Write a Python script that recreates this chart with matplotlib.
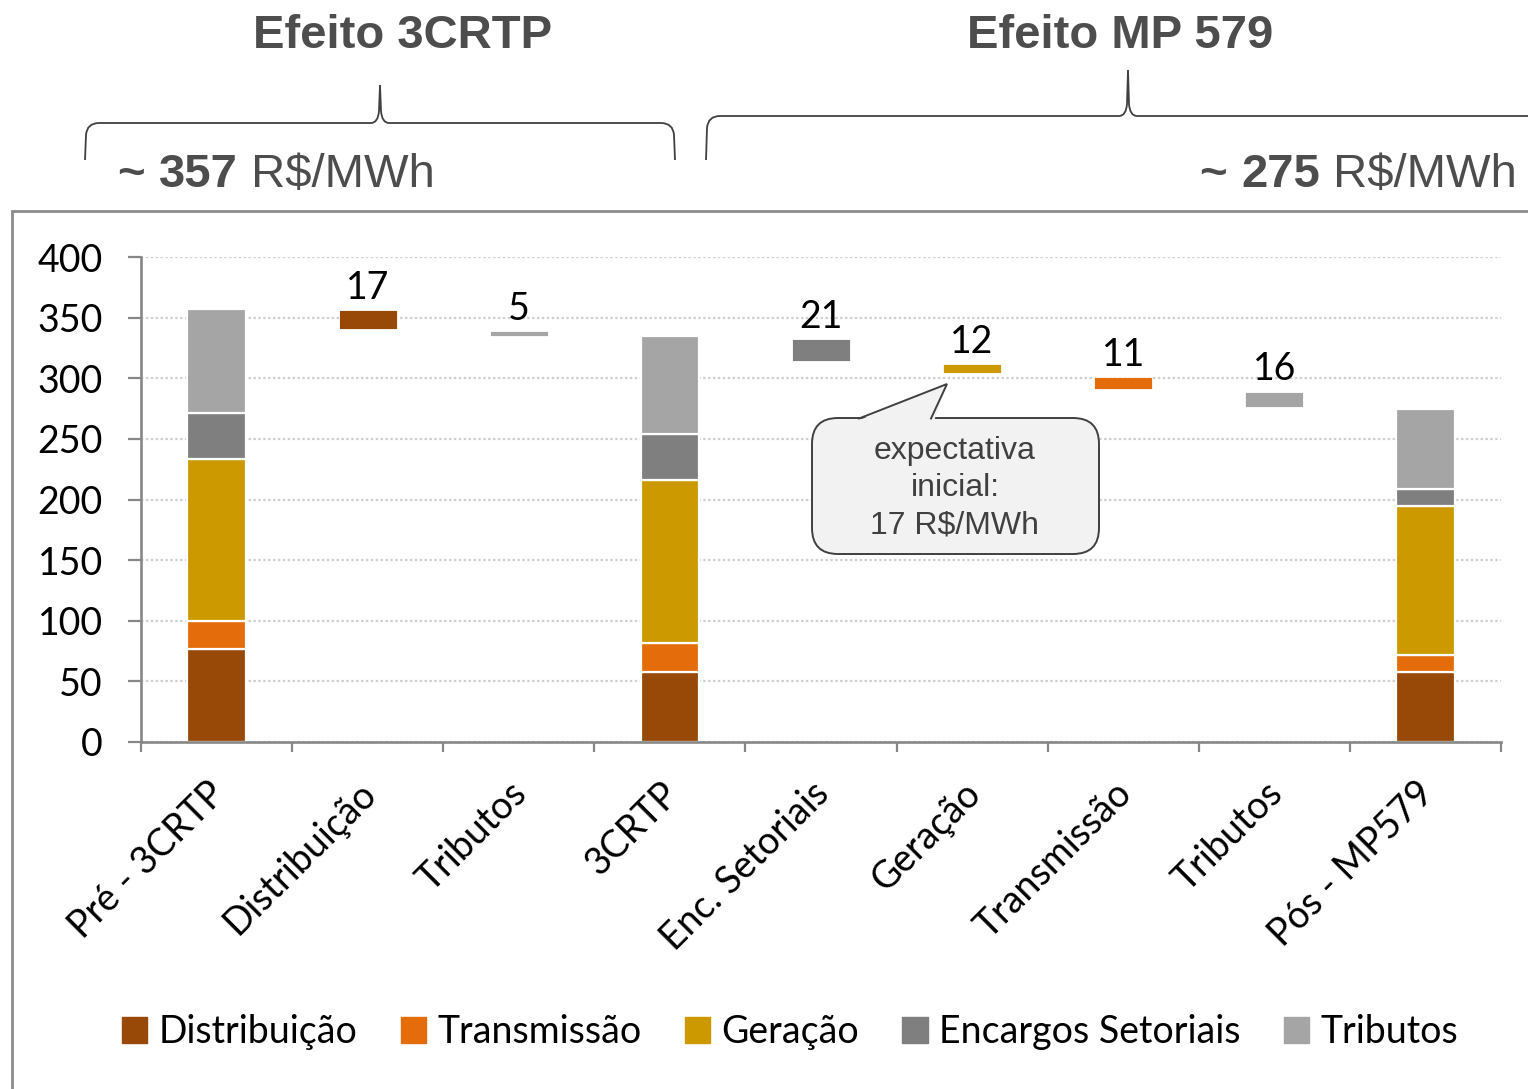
import matplotlib
matplotlib.use("Agg")
import matplotlib.pyplot as plt
from matplotlib.patches import FancyBboxPatch, Polygon, PathPatch, Patch
from matplotlib.path import Path
import matplotlib.transforms as mtransforms

# ---------------- data ----------------
categories = ["Pré - 3CRTP", "Distribuição", "Tributos", "3CRTP", "Enc. Setoriais",
              "Geração", "Transmissão", "Tributos", "Pós - MP579"]
series_names = ["Distribuição", "Transmissão", "Geração", "Encargos Setoriais", "Tributos"]
series_colors = ["#984807", "#E46C0A", "#CC9A00", "#7F7F7F", "#A5A5A5"]

# stacked totals (Distribuição, Transmissão, Geração, Encargos, Tributos)
pre_3crtp = [77, 23, 133, 38, 86]
crtp3 = [58, 24, 134, 38, 81]
pos_mp579 = [58, 14, 123, 14, 66]
stack_cols = [0, 3, 8]

# floating (variation) bars
step_cols = [1, 2, 4, 5, 6, 7]
step_series = [0, 4, 3, 2, 1, 4]
step_labels = [17, 5, 21, 12, 11, 16]
step_low = [341, 335, 314, 304, 291, 276]
step_high = [356, 339, 332, 312, 301, 289]

yticks = [0, 50, 100, 150, 200, 250, 300, 350, 400]

W, H = 1528, 1089
FONT = "Lato"
ARIAL = "Liberation Sans"

fig = plt.figure(figsize=(W / 100, H / 100), dpi=100)
fig.patch.set_facecolor("white")

ax = fig.add_axes([141 / W, 1 - 742 / H, (1501 - 141) / W, (742 - 257) / H])
ax.set_xlim(-0.5, 8.5)
ax.set_ylim(0, 400)
ax.set_axisbelow(True)

bw = 0.385
for col, vals in zip(stack_cols, [pre_3crtp, crtp3, pos_mp579]):
    bottom = 0
    for v, c in zip(vals, series_colors):
        ax.bar(col, v, bottom=bottom, width=bw, color=c, edgecolor="white", linewidth=1.6, zorder=2)
        bottom += v

for col, s, lab, lo, hi in zip(step_cols, step_series, step_labels, step_low, step_high):
    ax.bar(col, hi - lo, bottom=lo, width=bw, color=series_colors[s], edgecolor="white",
           linewidth=0.6, zorder=2)
    ax.annotate(str(lab), xy=(col, hi), xytext=(0, 8), textcoords="offset points",
                ha="center", va="baseline", fontsize=27, family=FONT, color="black")

# axes styling
gray = "#878787"
for sp in ["top", "right"]:
    ax.spines[sp].set_visible(False)
for sp in ["left", "bottom"]:
    ax.spines[sp].set_color(gray)
    ax.spines[sp].set_linewidth(1.9)
ax.set_yticks(yticks)
ax.set_yticklabels([str(t) for t in yticks], fontsize=27, family=FONT)
ax.tick_params(axis="y", direction="out", length=9.5, width=1.6, color=gray, pad=18)
ax.yaxis.grid(True, color="#d0d0d0", linestyle=(0, (1.1, 1.1)), linewidth=1.6)

ax.set_xticks([i - 0.5 for i in range(len(categories) + 1)])
ax.set_xticklabels([])
ax.tick_params(axis="x", direction="out", length=7.5, width=1.6, color=gray)

lab_tr = mtransforms.blended_transform_factory(ax.transData, ax.transAxes) + \
    mtransforms.ScaledTranslation(-10 / 100, -33 / 100, fig.dpi_scale_trans)
for i, cat in enumerate(categories):
    ax.text(i, 0, cat, transform=lab_tr, rotation=45, rotation_mode="anchor",
            ha="right", va="top", fontsize=27, family=FONT, color="black")

# legend
handles = [Patch(facecolor=c, edgecolor=c, linewidth=1) for c in series_colors]
fig.legend(handles, series_names, loc="center", bbox_to_anchor=(790 / W, 1 - 1032 / H),
           ncol=5, frameon=False, prop={"family": FONT, "size": 27},
           handlelength=0.68, handleheight=0.68, handletextpad=0.3, columnspacing=1.15,
           borderaxespad=0, borderpad=0)

# ---------------- overlay (pixel coordinates) ----------------
ov = fig.add_axes([0, 0, 1, 1])
ov.set_xlim(0, W)
ov.set_ylim(H, 0)
ov.axis("off")
ov.patch.set_alpha(0)

# frame
ov.plot([12, 12, W + 5], [H + 5, 211, 211], color="#8c8c8c", lw=2.0, clip_on=False,
        solid_joinstyle="miter")

# braces
def brace(x0, x1, xt, y_h, y_end, y_tip):
    verts = [(x0, y_end), (x0 + 1, y_h + 12), (x0 + 2, y_h), (x0 + 14, y_h),
             (xt - 9, y_h), (xt - 2, y_h), (xt - 1, y_h - 12), (xt, y_tip),
             (xt + 1, y_h - 12), (xt + 2, y_h), (xt + 9, y_h),
             (x1 - 14, y_h), (x1 - 2, y_h), (x1 - 1, y_h + 12), (x1, y_end)]
    codes = [Path.MOVETO, Path.LINETO, Path.CURVE3, Path.CURVE3,
             Path.LINETO, Path.CURVE3, Path.CURVE3, Path.LINETO,
             Path.LINETO, Path.CURVE3, Path.CURVE3,
             Path.LINETO, Path.CURVE3, Path.CURVE3, Path.LINETO]
    return Path(verts, codes)

ov.add_patch(PathPatch(brace(85, 675, 380, 123, 160, 85), fc="none", ec="#404040", lw=1.3))
ov.add_patch(PathPatch(brace(706, 1560, 1128, 116, 160, 70), fc="none", ec="#404040", lw=1.3,
                       clip_on=False))

hcol = "#4d4d4d"
ov.text(403, 36, "Efeito 3CRTP", ha="center", va="center", fontsize=34, fontweight="bold",
        family=ARIAL, color=hcol)
ov.text(1120, 36, "Efeito MP 579", ha="center", va="center", fontsize=34, fontweight="bold",
        family=ARIAL, color=hcol)

sub = 34
t1 = ov.text(118, 187, "~ ", ha="left", va="baseline", fontsize=sub, fontweight="bold",
             family=ARIAL, color=hcol)
t2 = ov.annotate("357", xy=(1, 0), xycoords=t1, ha="left", va="bottom", fontsize=sub,
                 fontweight="bold", family=ARIAL, color=hcol)
ov.annotate(" R$/MWh", xy=(1, 0), xycoords=t2, ha="left", va="bottom", fontsize=sub,
            family=ARIAL, color=hcol)

r1 = ov.text(1517, 187, " R$/MWh", ha="right", va="baseline", fontsize=sub, family=ARIAL, color=hcol)
r2 = ov.annotate("275", xy=(0, 0), xycoords=r1, ha="right", va="bottom", fontsize=sub,
                 fontweight="bold", family=ARIAL, color=hcol)
ov.annotate("~ ", xy=(0, 0), xycoords=r2, ha="right", va="bottom", fontsize=sub,
            fontweight="bold", family=ARIAL, color=hcol)

# callout
ov.add_patch(FancyBboxPatch((812, 418), 287, 136, boxstyle="round,pad=0,rounding_size=26",
                            fc="#f2f2f2", ec="#404040", lw=1.4, zorder=5))
ov.add_patch(Polygon([(857, 421), (947, 384), (934, 421)], closed=True, fc="#f2f2f2",
                     ec="none", zorder=6))
ov.plot([859, 947, 931], [418.5, 384, 418.5], color="#404040", lw=1.4, zorder=7,
        solid_joinstyle="miter")
ov.text(955, 488, "expectativa\ninicial:\n17 R$/MWh", ha="center", va="center", fontsize=23,
        family=ARIAL, color="#404040", linespacing=1.32, zorder=8)

fig.savefig("out.png", dpi=100, facecolor="white")
